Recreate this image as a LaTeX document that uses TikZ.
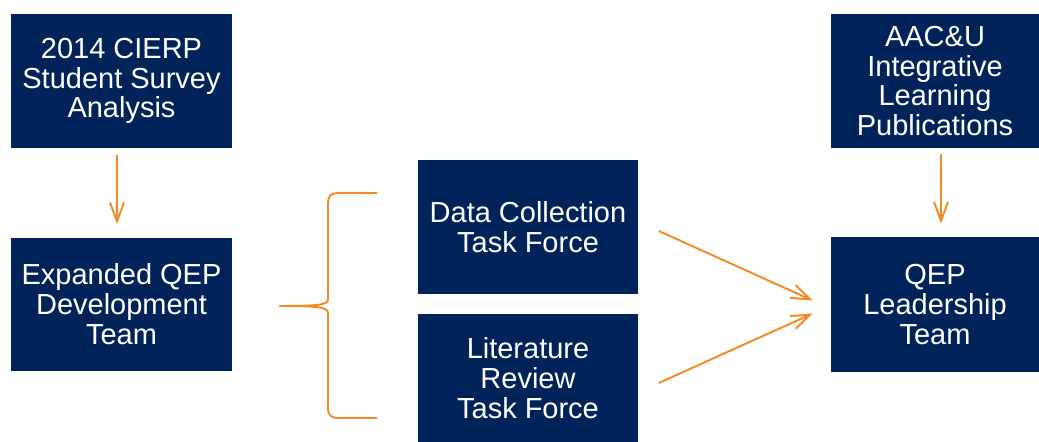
\documentclass[tikz,border=0pt]{standalone}
\usepackage{fontspec}
\setmainfont{Liberation Sans}
\usepackage{tikz}
\usetikzlibrary{arrows.meta,calc}
\definecolor{qepnavy}{HTML}{00235A}
\definecolor{qeporange}{HTML}{F58A25}

\begin{document}
\begin{tikzpicture}[x=0.02cm,y=-0.02cm,
        box/.style={fill=qepnavy,text=white,align=center,inner sep=0pt,
            minimum width=4.42cm,minimum height=2.68cm,
            font=\fontsize{16.5}{17}\selectfont},
        flow/.style={qeporange,line width=1.1pt,-{Straight Barb[length=3.8mm,width=2.8mm,line width=1.1pt]}},
        brace/.style={qeporange,line width=1.1pt}]
        \useasboundingbox (0,0) rectangle (1039,442);
        \node[box] (survey) at (121.5,81) {2014 CIERP\\Student Survey\\Analysis};
        \node[box] (expanded) at (121.5,304.5) {Expanded QEP\\Development\\Team};
        \node[box] (data) at (528,227) {Data Collection\\Task Force};
        \node[box,minimum height=2.56cm] (lit) at (528,378) {Literature\\Review\\Task Force};
        \node[box,minimum width=4.16cm] (aacu) at (935,81) {AAC\&U\\Integrative\\Learning\\Publications};
        \node[box,minimum width=4.16cm,minimum height=2.7cm] (lead) at (935,304.5) {QEP\\Leadership\\Team};
        \draw[flow] ($(survey.south)+(-4.5,7)$) -- ($(expanded.north)+(-4.5,-13)$);
        \draw[flow] ($(aacu.south)+(6,6)$) -- ($(lead.north)+(6,-13)$);
        \draw[flow] ($(data.east)+(20,4)$) -- ($(lead.west)+(-18,-4)$);
        \draw[flow] ($(lit.east)+(20,5)$) -- ($(lead.west)+(-18,9)$);
        \coordinate (tip) at ($(expanded.east)+(47,1.5)$);
        \draw[brace] (377,193) -- (338,193) .. controls (331,193) and (328,196) .. (328,203) -- (328,299)
            .. controls (328,305) and (318,306) .. (tip);
        \draw[brace] (377,418) -- (338,418) .. controls (331,418) and (328,415) .. (328,408) -- (328,313)
            .. controls (328,307) and (318,306) .. (tip);
\end{tikzpicture}
\end{document}
